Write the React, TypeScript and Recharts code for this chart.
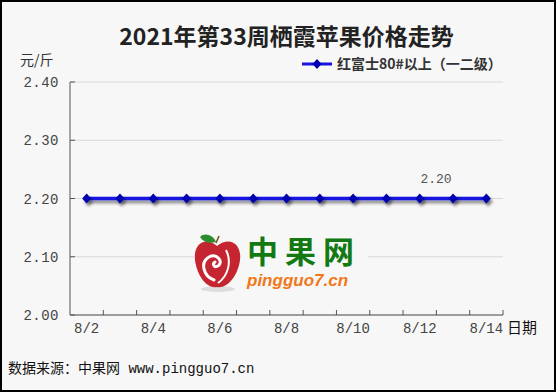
import { CartesianGrid, LabelList, Line, LineChart, XAxis, YAxis } from "recharts";

const dates = ["8/2", "8/3", "8/4", "8/5", "8/6", "8/7", "8/8", "8/9", "8/10", "8/11", "8/12", "8/13", "8/14"];
const prices = [2.2, 2.2, 2.2, 2.2, 2.2, 2.2, 2.2, 2.2, 2.2, 2.2, 2.2, 2.2, 2.2];
const yTicks = [2.0, 2.1, 2.2, 2.3, 2.4];
const seriesName = "红富士80#以上（一二级）";
const title = "2021年第33周栖霞苹果价格走势";
const unitLabel = "元/斤";
const axisName = "日期";
const sourceText = "数据来源：中果网 www.pingguo7.cn";
const labelIndex = 11;

const data = dates.map((date, i) => ({ date, price: prices[i] }));

const W = 556;
const H = 392;
const Y_AXIS_W = 60;
const margin = { top: 82, right: 53, bottom: 47, left: 10 };
const plotLeft = margin.left + Y_AXIS_W;
const plotRight = W - margin.right;
const halfBand = (plotRight - plotLeft) / dates.length / 2;

const tickFont = "'Liberation Mono', 'Noto Sans CJK SC', monospace";
const cjkFont = "'Noto Sans CJK SC', sans-serif";

function XTick({ x, y, payload, index }: any) {
  return (
    <g>
      <line x1={x + halfBand} x2={x + halfBand} y1={y} y2={y - 5} stroke="#555" />
      {index % 2 === 0 && (
        <text x={x} y={y + 18} textAnchor="middle" fontSize={14} fontFamily={tickFont} fill="#444">
          {payload.value}
        </text>
      )}
    </g>
  );
}

function YTick({ x, y, payload }: any) {
  return (
    <g>
      <line x1={x} x2={x + 5} y1={y} y2={y} stroke="#555" />
      <text x={x - 11} y={y + 5} textAnchor="end" fontSize={14} fontFamily={tickFont} fill="#444" letterSpacing={0.5}>
        {Number(payload.value).toFixed(2)}
      </text>
    </g>
  );
}

function Diamond({ cx, cy }: any) {
  if (cx == null || cy == null) return null;
  return <path d={`M${cx},${cy - 5} L${cx + 4.5},${cy} L${cx},${cy + 5} L${cx - 4.5},${cy} Z`} fill="#0000b0" />;
}

function PriceLabel({ x, y, value, index }: any) {
  if (index !== labelIndex) return null;
  return (
    <text x={x - 17} y={y - 16} textAnchor="middle" fontSize={13} fontFamily={tickFont} fill="#555">
      {Number(value).toFixed(2)}
    </text>
  );
}

function Watermark() {
  return (
    <g>
      <rect x={194} y={230} width={174} height={64} fill="#f7f7f7" />
      <ellipse cx={218} cy={289} rx={17} ry={3} fill="#ddd" />
      <path
        d="M217,246 C206,236 193,243 195,260 C197,276 207,289 217,287 C227,289 238,276 240,260 C242,243 229,236 217,246 Z"
        fill="#c52530"
      />
      <path
        d="M214,280 C203,276 200,262 209,257 C217,253 224,262 218,266 C214,268 212,264 215,262"
        fill="none"
        stroke="#fff"
        strokeWidth={3}
        strokeLinecap="round"
      />
      <path d="M226,250 C232,262 228,276 218,283" fill="none" stroke="#fff" strokeWidth={2} />
      <path d="M200,237 C205,232 213,235 216,242 C209,244 203,242 200,237 Z" fill="#2e8b2e" />
      <line x1={216} y1={243} x2={219} y2={236} stroke="#7a4a1a" strokeWidth={1.5} />
      <text x={247} y={263} fontSize={31} fontWeight="bold" fontFamily={cjkFont} fill="#137a13" letterSpacing={7}>
        中果网
      </text>
      <text x={247} y={286} fontSize={17} fontWeight="bold" fontStyle="italic" fontFamily="'Liberation Sans', sans-serif" fill="#f07818">
        pingguo7.cn
      </text>
    </g>
  );
}

export default function App() {
  return (
    <div style={{ position: "absolute", top: 0, left: 0, width: W, height: H, background: "#f7f7f7" }}>
      <style>{`.recharts-line-curve, .recharts-line-dots { filter: url(#lineShadow); }`}</style>
      <svg width={0} height={0} style={{ position: "absolute" }}>
        <defs>
          <filter id="lineShadow" filterUnits="userSpaceOnUse" x={0} y={0} width={W} height={H}>
            <feDropShadow dx={2} dy={3} stdDeviation={1.6} floodColor="#000" floodOpacity={0.45} />
          </filter>
        </defs>
      </svg>
      <LineChart width={W} height={H} data={data} margin={margin}>
        <CartesianGrid horizontal vertical={false} stroke="#d8d8d8" />
        <XAxis
          dataKey="date"
          interval={0}
          padding={{ left: halfBand, right: halfBand }}
          tickSize={0}
          tickMargin={0}
          tickLine={false}
          height={30}
          axisLine={{ stroke: "#555" }}
          tick={<XTick />}
        />
        <YAxis
          width={Y_AXIS_W}
          domain={[2.0, 2.4]}
          ticks={yTicks}
          interval={0}
          tickSize={0}
          tickMargin={0}
          tickLine={false}
          axisLine={{ stroke: "#555" }}
          tick={<YTick />}
        />
        <Line
          type="linear"
          dataKey="price"
          name={seriesName}
          stroke="#1414e0"
          strokeWidth={3.5}
          dot={<Diamond />}
          activeDot={false}
          isAnimationActive={false}
        >
          <LabelList dataKey="price" content={<PriceLabel />} />
        </Line>
      </LineChart>
      <svg width={W} height={H} style={{ position: "absolute", top: 0, left: 0, pointerEvents: "none" }}>
        <text
          x={(plotLeft + plotRight) / 2}
          y={45}
          textAnchor="middle"
          fontSize={23}
          fontWeight="bold"
          fontFamily={cjkFont}
          fill="#222"
        >
          {title}
        </text>
        <text x={20} y={65} fontSize={14} fontFamily={cjkFont} fill="#333">
          {unitLabel}
        </text>
        <line x1={302} x2={332} y1={64} y2={64} stroke="#1414e0" strokeWidth={3} />
        <path d="M317,59 L321.5,64 L317,69 L312.5,64 Z" fill="#0000b0" />
        <text x={337} y={69} fontSize={14} fontWeight="bold" fontFamily={cjkFont} fill="#333">
          {seriesName}
        </text>
        <text x={507} y={333} fontSize={15} fontFamily={cjkFont} fill="#111">
          {axisName}
        </text>
        <text x={8} y={373} fontSize={14} fontFamily={tickFont} fill="#111">
          {sourceText}
        </text>
        <Watermark />
        <rect x={1} y={1} width={W - 2} height={H - 2} fill="none" stroke="#000" strokeWidth={2} />
      </svg>
    </div>
  );
}
